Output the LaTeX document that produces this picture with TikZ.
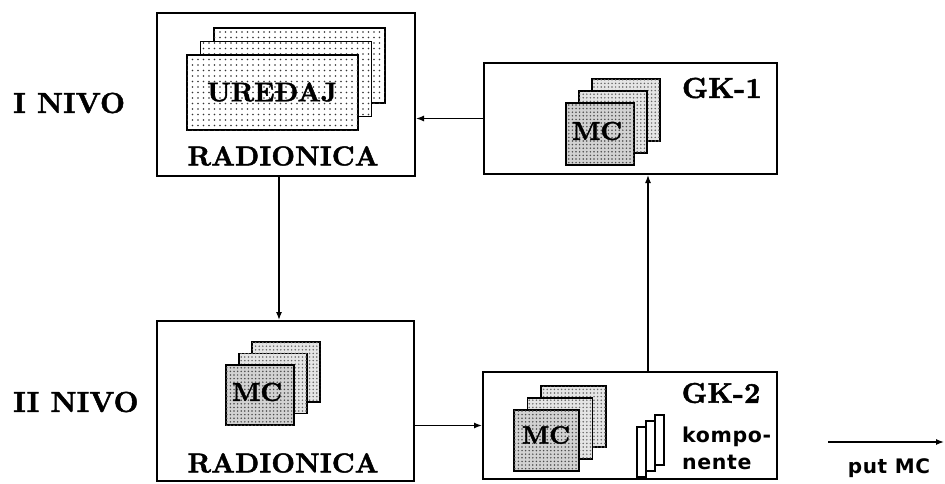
\documentclass[tikz,border=0pt]{standalone}
\usepackage{fontspec}
\newfontfamily\dejavu{DejaVu Sans}[LetterSpace=3]
\newfontfamily\heavy{lmroman10-bold.otf}[FakeBold=1.6]
\usetikzlibrary{arrows.meta,patterns}
\pgfdeclarepatternformonly{sdots}{\pgfqpoint{-1pt}{-1pt}}{\pgfqpoint{1pt}{1pt}}{\pgfqpoint{5.5pt}{5.5pt}}{\pgfpathcircle{\pgfpointorigin}{0.95pt}\pgfusepath{fill}}
\pgfdeclarepatternformonly{ddots}{\pgfqpoint{-1pt}{-1pt}}{\pgfqpoint{1pt}{1pt}}{\pgfqpoint{3.6pt}{3.6pt}}{\pgfpathcircle{\pgfpointorigin}{0.85pt}\pgfusepath{fill}}
\newcommand\cardstack[8]{% x y w h dx dy backstyle frontstyle
  \foreach \k in {2,1}{\path[#7] ({#1+\k*#5},{#2-\k*#6}) rectangle ++(#3,#4);}
  \path[#8] (#1,#2) rectangle ++(#3,#4);}
\newcommand\hv[1]{\heavy\fontsize{#1}{#1}\selectfont}
\tikzset{
  box/.style={draw, line width=2pt, inner sep=0pt},
  card/.style={draw, line width=1.7pt, fill=white, postaction={pattern=sdots, pattern color=black!80}},
  mccard/.style={draw, line width=1.7pt, fill=gray!20, postaction={pattern=ddots, pattern color=black!60}},
  mcfront/.style={draw, line width=1.7pt, fill=gray!35, postaction={pattern=ddots, pattern color=black!70}},
  thincard/.style={draw, line width=1.2pt, fill=white},
  arr/.style={line width=1.3pt, -{Latex[length=8pt,width=6pt]}},
  serif/.style={inner sep=0pt},
  level/.style={inner sep=0pt, anchor=west, font=\hv{29}},
  sans/.style={inner sep=0pt, font=\dejavu\bfseries\fontsize{20.5}{20.5}\selectfont}
}
\begin{document}
\begin{tikzpicture}[x=1pt,y=-1pt]
\useasboundingbox (0,0) rectangle (945,483);
% boxes
\node[box, minimum width=258pt, minimum height=163pt] (box1) at (286,94.5) {};
\node[box, minimum width=293pt, minimum height=111pt] (gk1) at (630.5,118.5) {};
\node[box, minimum width=257pt, minimum height=160pt] (box3) at (285.5,401) {};
\node[box, minimum width=294pt, minimum height=107pt] (gk2) at (630,425.5) {};
% level labels
\node[level] (lv1) at (13,103) {I NIVO};
\node[level] (lv2) at (13,402) {II NIVO};
% card stacks
\cardstack{187}{55}{171}{75}{13.5}{13.5}{card}{card}
\node[serif, font=\hv{27}] (ured) at (272,92) {UREĐAJ};
\node[serif, font=\hv{27.5}] (rad1) at (283,156) {RADIONICA};
\cardstack{566}{103}{68}{62}{13}{12}{mccard}{mcfront}
\node[serif, font=\hv{26}] (mc1) at (597,131) {MC};
\node[serif, font=\hv{29}] (gk1t) at (722,88) {GK-1};
\cardstack{226}{365}{68}{60}{13}{11.5}{mccard}{mcfront}
\node[serif, font=\hv{26}] (mc2) at (257,392) {MC};
\node[serif, font=\hv{27.5}] (rad2) at (283,463) {RADIONICA};
\cardstack{514}{410}{65}{61}{13.5}{12}{mccard}{mcfront}
\node[serif, font=\hv{25}] (mc3) at (546,435) {MC};
\cardstack{637}{427}{9}{50}{9}{6}{thincard}{thincard}
\node[serif, font=\hv{28.5}] (gk2t) at (721,393) {GK-2};
\node[sans, anchor=west] (komp) at (682,437) {kompo-};
\node[sans, anchor=west] (nent) at (682,462) {nente};
% connectors
\draw[arr] (gk1.west) -- (gk1.west -| box1.east);
\draw[arr] ([xshift=-7pt]box1.south) -- ([xshift=-7pt]box1.south |- box3.north);
\draw[arr] (box3.east |- gk2.west) -- (gk2.west);
\draw[arr] ([xshift=18pt]gk2.north) -- ([xshift=18pt]gk2.north |- gk1.south);
\coordinate (p0) at (828,442);
\coordinate (p1) at (944,442);
\draw[arr] (p0) -- (p1);
\node[sans, font=\dejavu\bfseries\fontsize{20}{20}\selectfont] (put) at (889,468) {put MC};
\end{tikzpicture}
\end{document}
